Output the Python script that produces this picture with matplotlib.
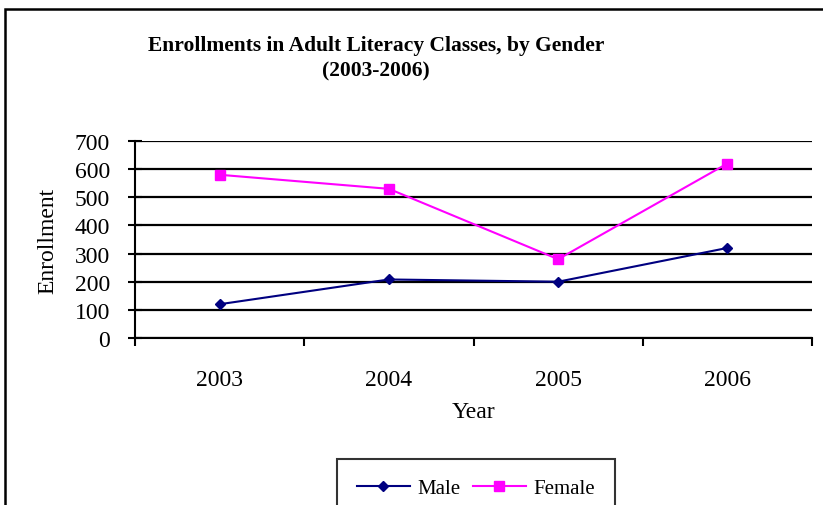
import matplotlib.pyplot as plt
from matplotlib.patches import Rectangle

years = ['2003', '2004', '2005', '2006']
male = [120, 208, 200, 320]
female = [580, 530, 280, 620]

plt.rcParams['font.family'] = ['Liberation Serif', 'DejaVu Serif']

fig = plt.figure(figsize=(8.23, 5.06), dpi=100)
ax = fig.add_axes([135 / 823, 1 - 339 / 506, (812 - 135) / 823, (339 - 142) / 506])

x = [i + 0.5 for i in range(len(years))]
ax.plot(x, male, color='#000080', marker='D', markersize=5.5, lw=1.5, label='Male')
ax.plot(x, female, color='#FF00FF', marker='s', markersize=7.5, lw=1.5, label='Female')

ax.set_xlim(0, len(years))
ax.set_ylim(0, 700)
ax.set_yticks(range(0, 701, 100))
ax.yaxis.grid(True, color='black', lw=1.6)
ax.set_axisbelow(True)
ax.set_xticks(range(len(years) + 1))
ax.set_xticklabels([])
ax.set_xticks(x, minor=True)
ax.set_xticklabels(years, minor=True)
ax.tick_params(axis='x', which='minor', length=0, pad=22, labelsize=17)
ax.tick_params(axis='x', which='major', length=6, width=1.5, direction='out')
ax.tick_params(axis='y', length=10, width=1.5, direction='inout', labelsize=17, pad=13)
for s in ['top', 'right']:
    ax.spines[s].set_visible(False)
for s in ['left', 'bottom']:
    ax.spines[s].set_linewidth(1.5)

ax.set_xlabel('Year', fontsize=17, labelpad=8)
ax.set_ylabel('Enrollment', fontsize=17, labelpad=12)

fig.text(376 / 823, 1 - 51 / 506, 'Enrollments in Adult Literacy Classes, by Gender',
         ha='center', va='baseline', fontsize=15.5, fontweight='bold')
fig.text(376 / 823, 1 - 76 / 506, '(2003-2006)',
         ha='center', va='baseline', fontsize=15.5, fontweight='bold')

# outer chart frame (cropped on right and bottom)
fig.patches.append(Rectangle((5 / 823, -0.1), 1.0, 1 - 10 / 506 + 0.1, transform=fig.transFigure,
                             fill=False, edgecolor='black', lw=1.8))

leg = fig.legend(loc='upper left', bbox_to_anchor=(337 / 823, 1 - 460 / 506), ncol=2,
                 fontsize=15, frameon=True, fancybox=False, edgecolor='black',
                 handlelength=2.55, handletextpad=0.35, columnspacing=0.6,
                 borderpad=0.95, borderaxespad=0)
leg.get_frame().set_linewidth(1.5)

fig.savefig('out.png', dpi=100)
